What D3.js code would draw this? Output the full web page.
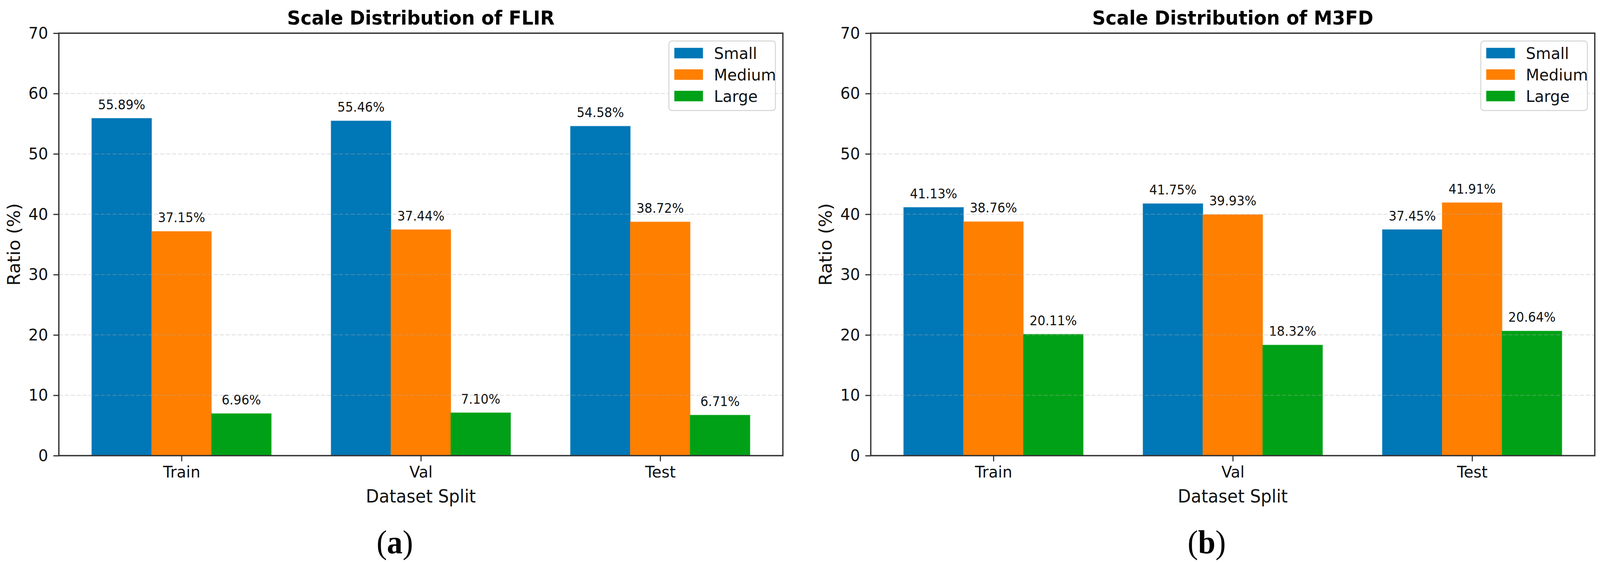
<!DOCTYPE html>
<html>
<head>
<meta charset="utf-8">
<script src="https://cdn.jsdelivr.net/npm/d3@7"></script>
<style>
  html, body { margin: 0; padding: 0; background: #fff; overflow: hidden; }
  svg { display: block; width: 100vw; height: 100vh; }
  text { font-family: 'DejaVu Sans', sans-serif; }
</style>
</head>
<body>
<script>
// chart values
const splits = ['Train', 'Val', 'Test']
const scales = ['Small', 'Medium', 'Large']
const colors = ['#0077b6', '#ff7f00', '#00a116']
const yTicks = [0, 10, 20, 30, 40, 50, 60, 70]

const flirSmall = [55.89, 55.46, 54.58]
const flirMedium = [37.15, 37.44, 38.72]
const flirLarge = [6.96, 7.10, 6.71]

const m3fdSmall = [41.13, 41.75, 37.45]
const m3fdMedium = [38.76, 39.93, 41.91]
const m3fdLarge = [20.11, 18.32, 20.64]

const panels = [
	{ title: 'Scale Distribution of FLIR', tag: 'a', series: [flirSmall, flirMedium, flirLarge], left: 158 },
	{ title: 'Scale Distribution of M3FD', tag: 'b', series: [m3fdSmall, m3fdMedium, m3fdLarge], left: 2338 },
]

const width = 4296
const height = 1442
const plotW = 1944
const plotTop = 85
const plotBottom = 1167
const barW = 0.25

// viewBox keeps the whole figure inside the window whatever its css size
const svg = d3.select('body').append('svg')
	.attr('viewBox', `0 0 ${width} ${height}`)
	.attr('preserveAspectRatio', 'none')

panels.forEach(function (p) {
	const right = p.left + plotW
	const x = d3.scaleLinear().domain([-0.5125, 2.5125]).range([p.left, right])
	const y = d3.scaleLinear().domain([0, 70]).range([plotBottom, plotTop])
	const g = svg.append('g')

	// bars
	p.series.forEach(function (vals, k) {
		g.selectAll('.bar' + k)
			.data(vals)
			.enter()
			.append('rect')
			.attr('x', (d, i) => x(i + (k - 1) * barW - barW / 2))
			.attr('width', x(barW) - x(0))
			.attr('y', d => y(d))
			.attr('height', d => y(0) - y(d))
			.attr('fill', colors[k])
			.attr('stroke', colors[k])
			.attr('stroke-opacity', 0.45)
			.attr('stroke-width', 2)

		// value labels
		g.selectAll('.lab' + k)
			.data(vals)
			.enter()
			.append('text')
			.attr('x', (d, i) => x(i + (k - 1) * barW))
			.attr('y', d => y(d + 1) - 8)
			.attr('text-anchor', 'middle')
			.attr('font-size', 33.3)
			.attr('fill', '#111')
			.text(d => d.toFixed(2) + '%')
	})

	// dashed grid on top of bars
	g.selectAll('.grid')
		.data(yTicks.filter(t => t > 0 && t < 70))
		.enter()
		.append('line')
		.attr('x1', p.left)
		.attr('x2', right)
		.attr('y1', d => y(d))
		.attr('y2', d => y(d))
		.attr('stroke', '#b0b0b0')
		.attr('stroke-opacity', 0.35)
		.attr('stroke-width', 2.5)
		.attr('stroke-dasharray', '11,5')

	// axes
	const yAxis = d3.axisLeft(y).tickValues(yTicks).tickSize(14.6).tickPadding(14)
	const gy = g.append('g').attr('transform', `translate(${p.left},0)`).call(yAxis)
	const xAxis = d3.axisBottom(x).tickValues([0, 1, 2]).tickFormat(i => splits[i]).tickSize(14.6).tickPadding(12)
	const gx = g.append('g').attr('transform', `translate(0,${plotBottom})`).call(xAxis)
	;[gx, gy].forEach(function (a) {
		a.select('.domain').remove()
		a.selectAll('.tick line').attr('stroke', '#333').attr('stroke-width', 3)
		a.selectAll('.tick text').attr('font-size', 41.7).attr('fill', '#111').attr('font-family', 'DejaVu Sans')
	})

	// frame
	g.append('rect')
		.attr('x', p.left)
		.attr('y', plotTop)
		.attr('width', plotW)
		.attr('height', plotBottom - plotTop)
		.attr('fill', 'none')
		.attr('stroke', '#333')
		.attr('stroke-width', 3.5)

	// titles and labels
	const cx = (p.left + right) / 2
	g.append('text')
		.attr('x', cx)
		.attr('y', 63)
		.attr('text-anchor', 'middle')
		.attr('font-size', 50)
		.attr('font-weight', 'bold')
		.text(p.title)
	g.append('text')
		.attr('x', cx)
		.attr('y', 1287)
		.attr('text-anchor', 'middle')
		.attr('font-size', 45.8)
		.attr('fill', '#111')
		.text('Dataset Split')
	g.append('text')
		.attr('transform', `translate(${p.left - 121},${(plotTop + plotBottom) / 2}) rotate(-90)`)
		.attr('dy', '0.35em')
		.attr('text-anchor', 'middle')
		.attr('font-size', 45.8)
		.attr('fill', '#111')
		.text('Ratio (%)')

	// legend
	const lx = right - 306
	const ly = 105
	const leg = g.append('g').attr('transform', `translate(${lx},${ly})`)
	leg.append('rect')
		.attr('width', 286)
		.attr('height', 178)
		.attr('rx', 8)
		.attr('fill', 'white')
		.attr('fill-opacity', 0.8)
		.attr('stroke', '#d4d4d4')
		.attr('stroke-width', 2.5)
	scales.forEach(function (s, k) {
		const cy = 31 + k * 55
		leg.append('rect')
			.attr('x', 15)
			.attr('y', cy - 13)
			.attr('width', 76)
			.attr('height', 26)
			.attr('fill', colors[k])
			.attr('stroke', colors[k])
			.attr('stroke-opacity', 0.45)
			.attr('stroke-width', 2)
		leg.append('text')
			.attr('x', 121)
			.attr('y', cy)
			.attr('dy', '0.36em')
			.attr('font-size', 41.7)
			.attr('fill', '#111')
			.text(s)
	})

	// panel tag
	const tag = g.append('text')
		.attr('x', cx - 70)
		.attr('y', 1417)
		.attr('text-anchor', 'middle')
		.attr('font-size', 84)
		.style('font-family', "'Liberation Serif', serif")
	tag.append('tspan').text('(')
	tag.append('tspan').attr('font-weight', 'bold').text(p.tag)
	tag.append('tspan').text(')')
})
</script>
</body>
</html>
